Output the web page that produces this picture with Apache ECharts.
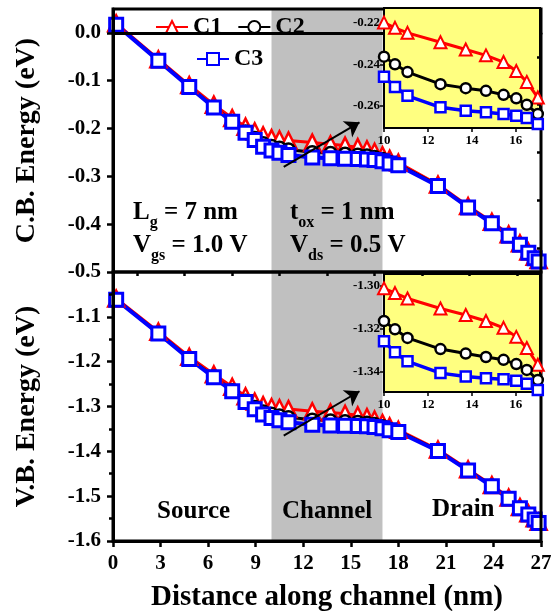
<!DOCTYPE html>
<html><head><meta charset="utf-8">
<script src="https://cdn.jsdelivr.net/npm/echarts@6/dist/echarts.min.js"></script>
<style>html,body{margin:0;padding:0;background:#fff}#c{width:551px;height:611px}</style>
</head><body><div id="c"></div>
<script>
// ---- data ----
const distance = [0.2, 2.86, 4.81, 6.36, 7.52, 8.36, 8.94, 9.47, 10.0, 10.5, 11.07, 12.57, 13.72, 14.64, 15.44, 16.02, 16.5, 17.0, 17.45, 18.0, 20.5, 22.4, 23.9, 24.96, 25.67, 26.2, 26.6, 26.85];
const cbC1 = [0.020, -0.055, -0.109, -0.150, -0.178, -0.196, -0.206, -0.214, -0.220, -0.2225, -0.2249, -0.2294, -0.2329, -0.2357, -0.2389, -0.2432, -0.2484, -0.2559, -0.263, -0.271, -0.317, -0.362, -0.395, -0.421, -0.440, -0.457, -0.468, -0.475];
const cbC2 = [0.018, -0.057, -0.112, -0.155, -0.184, -0.206, -0.220, -0.231, -0.2363, -0.2400, -0.2437, -0.2495, -0.2514, -0.2527, -0.2546, -0.2563, -0.2594, -0.2638, -0.270, -0.275, -0.319, -0.364, -0.397, -0.423, -0.442, -0.459, -0.470, -0.477];
const cbC3 = [0.017, -0.058, -0.113, -0.156, -0.186, -0.209, -0.224, -0.238, -0.2459, -0.2508, -0.2551, -0.2606, -0.2622, -0.2630, -0.2638, -0.2646, -0.2657, -0.2686, -0.273, -0.277, -0.320, -0.365, -0.398, -0.424, -0.443, -0.460, -0.471, -0.478];
const vbC1 = [-1.059, -1.133, -1.189, -1.228, -1.256, -1.277, -1.289, -1.297, -1.3011, -1.3033, -1.3058, -1.3105, -1.3135, -1.3163, -1.3195, -1.3237, -1.3289, -1.3367, -1.344, -1.352, -1.396, -1.440, -1.475, -1.503, -1.524, -1.538, -1.549, -1.557];
const vbC2 = [-1.061, -1.136, -1.193, -1.233, -1.264, -1.287, -1.301, -1.311, -1.3163, -1.3202, -1.3242, -1.3294, -1.3315, -1.3331, -1.3344, -1.3364, -1.3391, -1.3438, -1.350, -1.355, -1.398, -1.442, -1.477, -1.505, -1.526, -1.540, -1.551, -1.559];
const vbC3 = [-1.062, -1.137, -1.194, -1.235, -1.266, -1.290, -1.306, -1.318, -1.3257, -1.3309, -1.3351, -1.3406, -1.3422, -1.3430, -1.3435, -1.3442, -1.3456, -1.3485, -1.353, -1.357, -1.399, -1.443, -1.478, -1.506, -1.527, -1.541, -1.552, -1.560];
const channelRange = [10, 17];
const arrowCB = [[10.77, -0.280], [15.55, -0.187]];
const arrowVB = [[10.77, -1.365], [15.55, -1.266]];
// ---- tick labels ----
const xTicks = [0, 3, 6, 9, 12, 15, 18, 21, 24, 27];
const xMinor = [1.5, 4.5, 7.5, 10.5, 13.5, 16.5, 19.5, 22.5, 25.5];
const cbTicks = [-0.5, -0.4, -0.3, -0.2, -0.1, 0.0];
const cbMinor = [-0.45, -0.35, -0.25, -0.15, -0.05];
const vbTicks = [-1.6, -1.5, -1.4, -1.3, -1.2, -1.1];
const vbMinor = [-1.55, -1.45, -1.35, -1.25, -1.15, -1.05];
const insetXTicks = [10, 12, 14, 16];
const insetCbTicks = [-0.26, -0.24, -0.22];
const insetVbTicks = [-1.34, -1.32, -1.30];

// ---- chart ----
const FONT = '"Liberation Serif","Times New Roman",serif';
const chart = echarts.init(document.getElementById('c'), null, {renderer: 'canvas'});
const pts = ys => distance.map((x, i) => [x, ys[i]]);
const styles = {
  C1: {color: '#ff0000', symbol: 'triangle', size: [16, 12], lw: [3, 3], bw: [2.5, 2]},
  C2: {color: '#000000', symbol: 'circle', size: [12, 10], lw: [3, 3], bw: [2.5, 2.5]},
  C3: {color: '#0000ff', symbol: 'rect', size: [13, 10], lw: [4, 3.5], bw: [3, 2.5]}
};
const xIdx = [0, 1, 3, 4];
const yIdx = [0, 2, 4, 5];
function line(name, ys, gi, extra) {
  const s = styles[name];
  const k = gi >= 2 ? 1 : 0;
  return Object.assign({
    type: 'line', name, xAxisIndex: xIdx[gi], yAxisIndex: yIdx[gi], data: pts(ys),
    symbol: s.symbol, symbolSize: s.size[k], showAllSymbol: true,
    lineStyle: {color: s.color, width: s.lw[k]},
    itemStyle: {color: '#fff', borderColor: s.color, borderWidth: s.bw[k]},
    z: k ? 13 : 3, clip: true, animation: false, emphasis: {disabled: true}, silent: true
  }, extra || {});
}
const band = {silent: true, z: 1, itemStyle: {color: '#c0c0c0'}, data: [[{xAxis: channelRange[0]}, {xAxis: channelRange[1]}]]};
const arrow = a => ({silent: true, z: 15, symbol: ['none', 'arrow'], symbolSize: 14, symbolRotate: null, label: {show: false},
  itemStyle: {color: '#000', borderColor: '#000'}, emphasis: {disabled: true},
  lineStyle: {color: '#000', width: 2, type: 'solid'},
  data: [[{coord: a[0], itemStyle: {color: '#000'}}, {coord: a[1], itemStyle: {color: '#000'}}]]});

const bold = (size) => ({fontSize: size, fontWeight: 'bold', fontFamily: FONT, color: '#000'});
const blackLine = (w) => ({show: true, lineStyle: {color: '#000', width: w}});

const mainGrid = {show: true, borderColor: '#000', borderWidth: 3, backgroundColor: 'transparent', z: 10, outerBoundsMode: 'none', containLabel: false};
const insetGrid = {show: true, borderColor: '#000', borderWidth: 2, backgroundColor: '#ffff80', z: 11, outerBoundsMode: 'none', containLabel: false};

const option = {
  animation: false,
  backgroundColor: '#fff',
  grid: [
    Object.assign({left: 113, top: 9, width: 428, height: 263}, mainGrid),
    Object.assign({left: 113, top: 272, width: 428, height: 269}, mainGrid),
    Object.assign({left: 384, top: 8, width: 156, height: 120}, insetGrid),
    Object.assign({left: 384, top: 274, width: 156, height: 118}, insetGrid)
  ],
  xAxis: [
    {gridIndex: 0, type: 'value', min: 0, max: 27, axisLine: blackLine(3), axisTick: {show: false}, axisLabel: {show: false}, splitLine: {show: false}, z: 10},
    {gridIndex: 1, type: 'value', min: 0, max: 27, axisLine: blackLine(3),
      axisTick: {show: true, inside: false, length: 6, customValues: xTicks, lineStyle: {color: '#000', width: 2.5}},
      axisLabel: Object.assign({customValues: xTicks, margin: 12}, bold(21)), splitLine: {show: false},
      name: 'Distance along channel (nm)', nameLocation: 'middle', nameGap: 42, nameTextStyle: bold(29), z: 10},
    {gridIndex: 1, type: 'value', min: 0, max: 27, axisLine: {show: false},
      axisTick: {show: true, inside: true, length: 4, customValues: xMinor, lineStyle: {color: '#000', width: 2.5}},
      axisLabel: {show: false}, splitLine: {show: false}, z: 12},
    {gridIndex: 2, type: 'value', min: 10, max: 17.1, axisLine: blackLine(2),
      axisTick: {show: true, length: 4, customValues: insetXTicks, lineStyle: {color: '#000', width: 1.5}},
      axisLabel: Object.assign({customValues: insetXTicks, margin: 6}, bold(13)), splitLine: {show: false}, z: 13},
    {gridIndex: 3, type: 'value', min: 10, max: 17.1, axisLine: blackLine(2),
      axisTick: {show: true, length: 4, customValues: insetXTicks, lineStyle: {color: '#000', width: 1.5}},
      axisLabel: Object.assign({customValues: insetXTicks, margin: 6}, bold(13)), splitLine: {show: false}, z: 13}
  ],
  yAxis: [
    {gridIndex: 0, type: 'value', min: -0.5, max: 0.05, axisLine: blackLine(3),
      axisTick: {show: true, inside: false, length: 6, customValues: cbTicks, lineStyle: {color: '#000', width: 2.5}},
      axisLabel: Object.assign({customValues: cbTicks, margin: 12, formatter: v => v.toFixed(1)}, bold(21)), splitLine: {show: false},
      name: 'C.B. Energy (eV)', nameLocation: 'middle', nameRotate: 90, nameGap: 72, nameTextStyle: bold(28), z: 10},
    {gridIndex: 0, type: 'value', min: -0.5, max: 0.05, axisLine: {show: false},
      axisTick: {show: true, inside: true, length: 4, customValues: cbMinor, lineStyle: {color: '#000', width: 2.5}},
      axisLabel: {show: false}, splitLine: {show: false}, z: 12},
    {gridIndex: 1, type: 'value', min: -1.6, max: -1.0, axisLine: blackLine(3),
      axisTick: {show: true, inside: false, length: 6, customValues: vbTicks, lineStyle: {color: '#000', width: 2.5}},
      axisLabel: Object.assign({customValues: vbTicks, margin: 12, formatter: v => v.toFixed(1)}, bold(21)), splitLine: {show: false},
      name: 'V.B. Energy (eV)', nameLocation: 'middle', nameRotate: 90, nameGap: 72, nameTextStyle: bold(28), z: 10},
    {gridIndex: 1, type: 'value', min: -1.6, max: -1.0, axisLine: {show: false},
      axisTick: {show: true, inside: true, length: 4, customValues: vbMinor, lineStyle: {color: '#000', width: 2.5}},
      axisLabel: {show: false}, splitLine: {show: false}, z: 12},
    {gridIndex: 2, type: 'value', min: -0.2705, max: -0.213, axisLine: blackLine(2),
      axisTick: {show: true, length: 4, customValues: insetCbTicks, lineStyle: {color: '#000', width: 1.5}},
      axisLabel: Object.assign({customValues: insetCbTicks, margin: 4, formatter: v => v.toFixed(2)}, bold(13)), splitLine: {show: false}, z: 13},
    {gridIndex: 3, type: 'value', min: -1.3494, max: -1.2944, axisLine: blackLine(2),
      axisTick: {show: true, length: 4, customValues: insetVbTicks, lineStyle: {color: '#000', width: 1.5}},
      axisLabel: Object.assign({customValues: insetVbTicks, margin: 4, formatter: v => v.toFixed(2)}, bold(13)), splitLine: {show: false}, z: 13}
  ],
  legend: [
    {data: ['C1', 'C2'], left: 155, top: 15, padding: 0, itemWidth: 32, itemHeight: 15, itemGap: 15, selectedMode: false, textStyle: bold(24)},
    {data: ['C3'], left: 196, top: 47, padding: 0, itemWidth: 32, itemHeight: 15, selectedMode: false, textStyle: bold(24)}
  ],
  series: [
    line('C1', cbC1, 0, {markArea: band}),
    line('C2', cbC2, 0),
    line('C3', cbC3, 0),
    line('C1', vbC1, 1, {markArea: band}),
    line('C2', vbC2, 1),
    line('C3', vbC3, 1),
    line('C1', cbC1, 2),
    line('C2', cbC2, 2),
    line('C3', cbC3, 2),
    line('C1', vbC1, 3),
    line('C2', vbC2, 3),
    line('C3', vbC3, 3),
    {type: 'line', name: 'arrowCB', xAxisIndex: 0, yAxisIndex: 0, data: [], z: 15, silent: true, markLine: arrow(arrowCB)},
    {type: 'line', name: 'arrowVB', xAxisIndex: 1, yAxisIndex: 2, data: [], z: 15, silent: true, markLine: arrow(arrowVB)}
  ],
  graphic: (function () {
    const rich = {
      a: {fontSize: 25, fontWeight: 'bold', fontFamily: FONT, fill: '#000', lineHeight: 30},
      s: {fontSize: 16, fontWeight: 'bold', fontFamily: FONT, fill: '#000', lineHeight: 30, padding: [20, 0, 0, 0]}
    };
    const t = (x, y, text) => ({type: 'text', x, y, z: 20, silent: true,
      style: {text, rich, fill: '#000', align: 'left', verticalAlign: 'middle', fontSize: 25, fontWeight: 'bold', fontFamily: FONT}});
    const p = (x, y, text) => ({type: 'text', x, y, z: 20, silent: true,
      style: {text, fill: '#000', align: 'left', verticalAlign: 'middle', fontSize: 25, fontWeight: 'bold', fontFamily: FONT}});
    return [
      t(133, 213, '{a|L}{s|g}{a| = 7 nm}'),
      t(133, 246, '{a|V}{s|gs}{a| = 1.0 V}'),
      t(290, 213, '{a|t}{s|ox}{a| = 1 nm}'),
      t(290, 246, '{a|V}{s|ds}{a| = 0.5 V}'),
      p(157, 512, 'Source'),
      p(282, 512, 'Channel'),
      p(432, 510, 'Drain')
    ];
  })()
};
chart.setOption(option);
</script>
</body></html>
